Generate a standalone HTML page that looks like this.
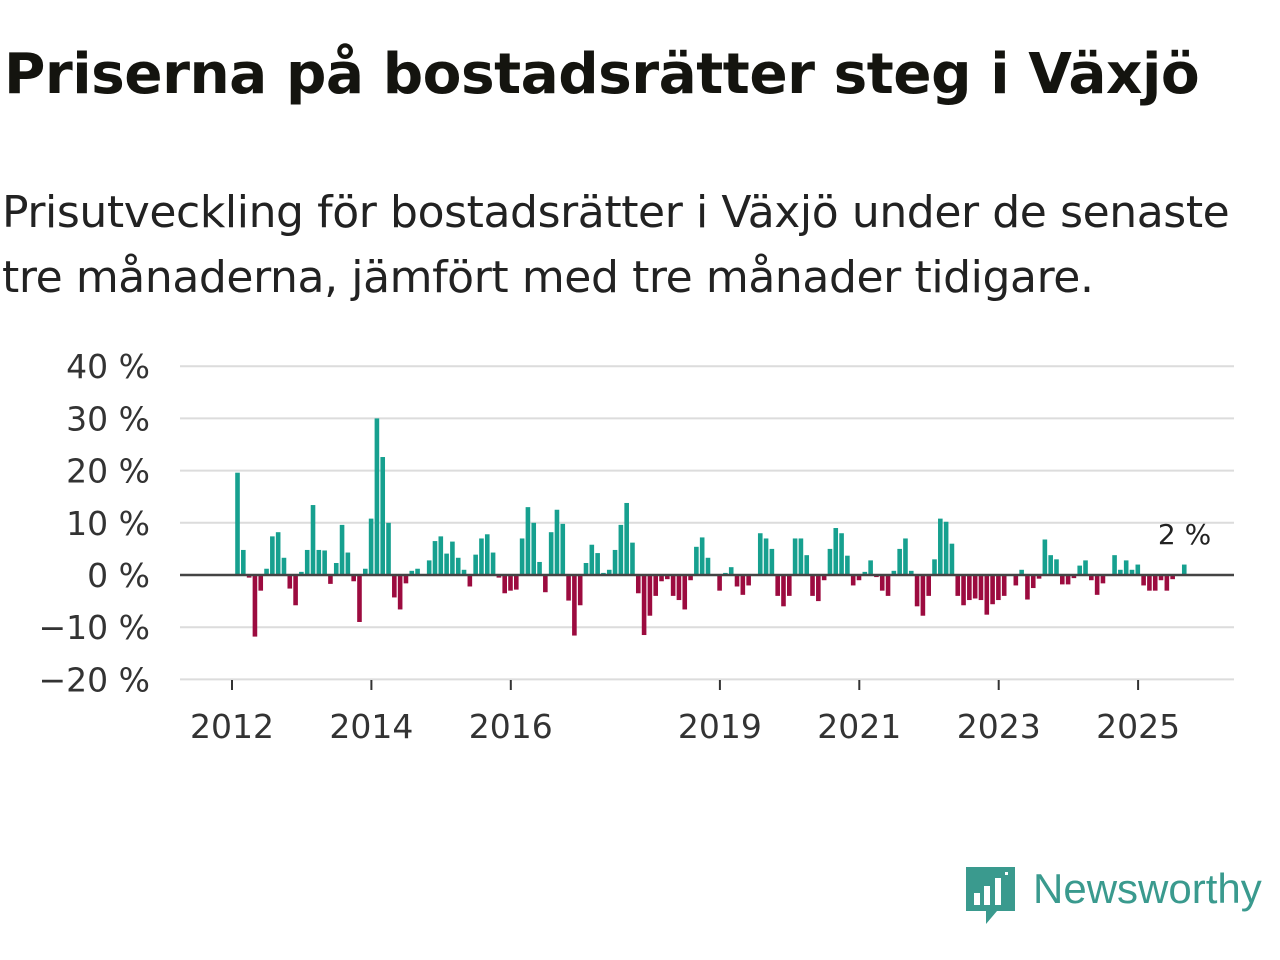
<!DOCTYPE html>
<html><head><meta charset="utf-8"><style>
body{margin:0;width:1280px;height:960px;background:#fff;font-family:"Liberation Sans","DejaVu Sans",sans-serif;overflow:hidden;position:relative}
#title{position:absolute;left:4px;top:42px;font-size:56.5px;font-weight:bold;color:#14140f;margin:0;white-space:nowrap;font-family:"DejaVu Sans",sans-serif;letter-spacing:-0.5px}
#sub{position:absolute;left:2px;top:180px;font-size:44px;line-height:65px;color:#222;font-family:"DejaVu Sans",sans-serif;letter-spacing:-0.4px;white-space:nowrap}
#chart{position:absolute;left:0;top:0}
#logo{position:absolute;left:965px;top:864px}
</style></head><body>
<h1 id="title">Priserna på bostadsrätter steg i Växjö</h1>
<div id="sub">Prisutveckling för bostadsrätter i Växjö under de senaste<br>tre månaderna, jämfört med tre månader tidigare.</div>
<svg id="chart" width="1280" height="960"></svg>
<div id="logo">
<svg width="320" height="64"><path d="M1 3h49v44H32l-11 13V47H1z" fill="#3a9a8e"/><rect x="9" y="29" width="6" height="12" fill="#fff"/><rect x="19" y="22" width="6" height="19" fill="#fff"/><rect x="30" y="14" width="6" height="27" fill="#fff"/><rect x="40" y="8" width="3" height="3" fill="#fff"/>
<text x="68" y="39" font-size="42" fill="#3a9a8e" font-family="Liberation Sans,sans-serif">Newsworthy</text></svg></div>
<script>
const yTicks=[40,30,20,10,0,-10,-20];
const xTickYears=[2012,2014,2016,2019,2021,2023,2025];
const startYear=2012, startMonth=1; // Feb 2012
const values=[19.6,4.8,-0.5,-11.8,-3,1.2,7.4,8.2,3.3,-2.6,-5.8,0.6,
4.8,13.4,4.8,4.7,-1.7,2.3,9.6,4.3,-1.2,-9,1.2,10.8,
30,22.6,10,-4.3,-6.6,-1.6,0.8,1.2,0,2.8,6.5,7.4,
4.1,6.4,3.3,1.0,-2.2,3.9,7.0,7.8,4.3,-0.5,-3.5,-3.0,
-2.8,7,13,10,2.5,-3.3,8.2,12.5,9.8,-4.9,-11.6,-5.8,
2.3,5.8,4.2,0.4,1.0,4.8,9.6,13.8,6.2,-3.5,-11.5,-7.8,
-4,-1.2,-0.8,-4,-4.8,-6.6,-1,5.4,7.2,3.3,0,-3,
0.4,1.5,-2.2,-3.8,-2,0,8,7,5,-4,-6,-4,
7,7,3.8,-4,-5,-1,5,9,8,3.7,-2,-1,
0.6,2.8,-0.4,-3,-4,0.8,5,7,0.8,-6,-7.8,-4,
3,10.8,10.2,6,-4,-5.8,-4.8,-4.5,-4.8,-7.6,-5.6,-4.8,
-4,0,-2,1,-4.7,-2.5,-0.7,6.8,3.8,3,-1.8,-1.8,
-0.6,1.8,2.8,-1.0,-3.8,-1.6,0,3.8,1,2.8,1,2,
-2,-3,-3,-1,-3,-0.8,0,2];
const NS="http://www.w3.org/2000/svg";
const svg=document.getElementById('chart');
const x0=180,x1=1234;
function yS(v){return 575-v*5.22;}
function xS(t){return 232+(t-2012)*69.7;}
function mk(tag,a){const e=document.createElementNS(NS,tag);for(const k in a)e.setAttribute(k,a[k]);svg.appendChild(e);return e;}
yTicks.forEach(t=>{
 if(t!==0){const g=mk('line',{x1:x0,x2:x1,y1:yS(t),y2:yS(t),stroke:'#dcdcdc','stroke-width':2});
 
 }
 const tx=mk('text',{x:150,y:yS(t)+12,'text-anchor':'end','font-size':33,fill:'#333','font-family':'DejaVu Sans,sans-serif'});
 tx.textContent=(t<0?'\u2212'+(-t):t)+' %';
 
 
});
values.forEach((v,i)=>{
 const t=startYear+(startMonth+i)/12;
 const xc=xS(t);
 const r=mk('rect',{x:xc-2.6,width:4.6,y:Math.min(yS(v),575),height:Math.abs(yS(v)-575),fill:v>=0?'#16a08f':'#9c0b3f'});
 
 
});
const z=mk('line',{x1:x0,x2:x1,y1:575,y2:575,stroke:'#444','stroke-width':2.5});


xTickYears.forEach(yr=>{
 const x=xS(yr);
 const tk=mk('line',{x1:x,x2:x,y1:680,y2:690,stroke:'#333','stroke-width':2});
 
 
 const tx=mk('text',{x:x,y:738,'text-anchor':'middle','font-size':33,fill:'#333','font-family':'DejaVu Sans,sans-serif'});
 tx.textContent=yr;
 
 
});
const lastT=startYear+(startMonth+values.length-1)/12;
const lab=mk('text',{x:xS(lastT),y:544,'text-anchor':'middle','font-size':28,fill:'#222','font-family':'DejaVu Sans,sans-serif'});
lab.textContent=Math.round(values[values.length-1])+' %';


</script>
</body></html>
